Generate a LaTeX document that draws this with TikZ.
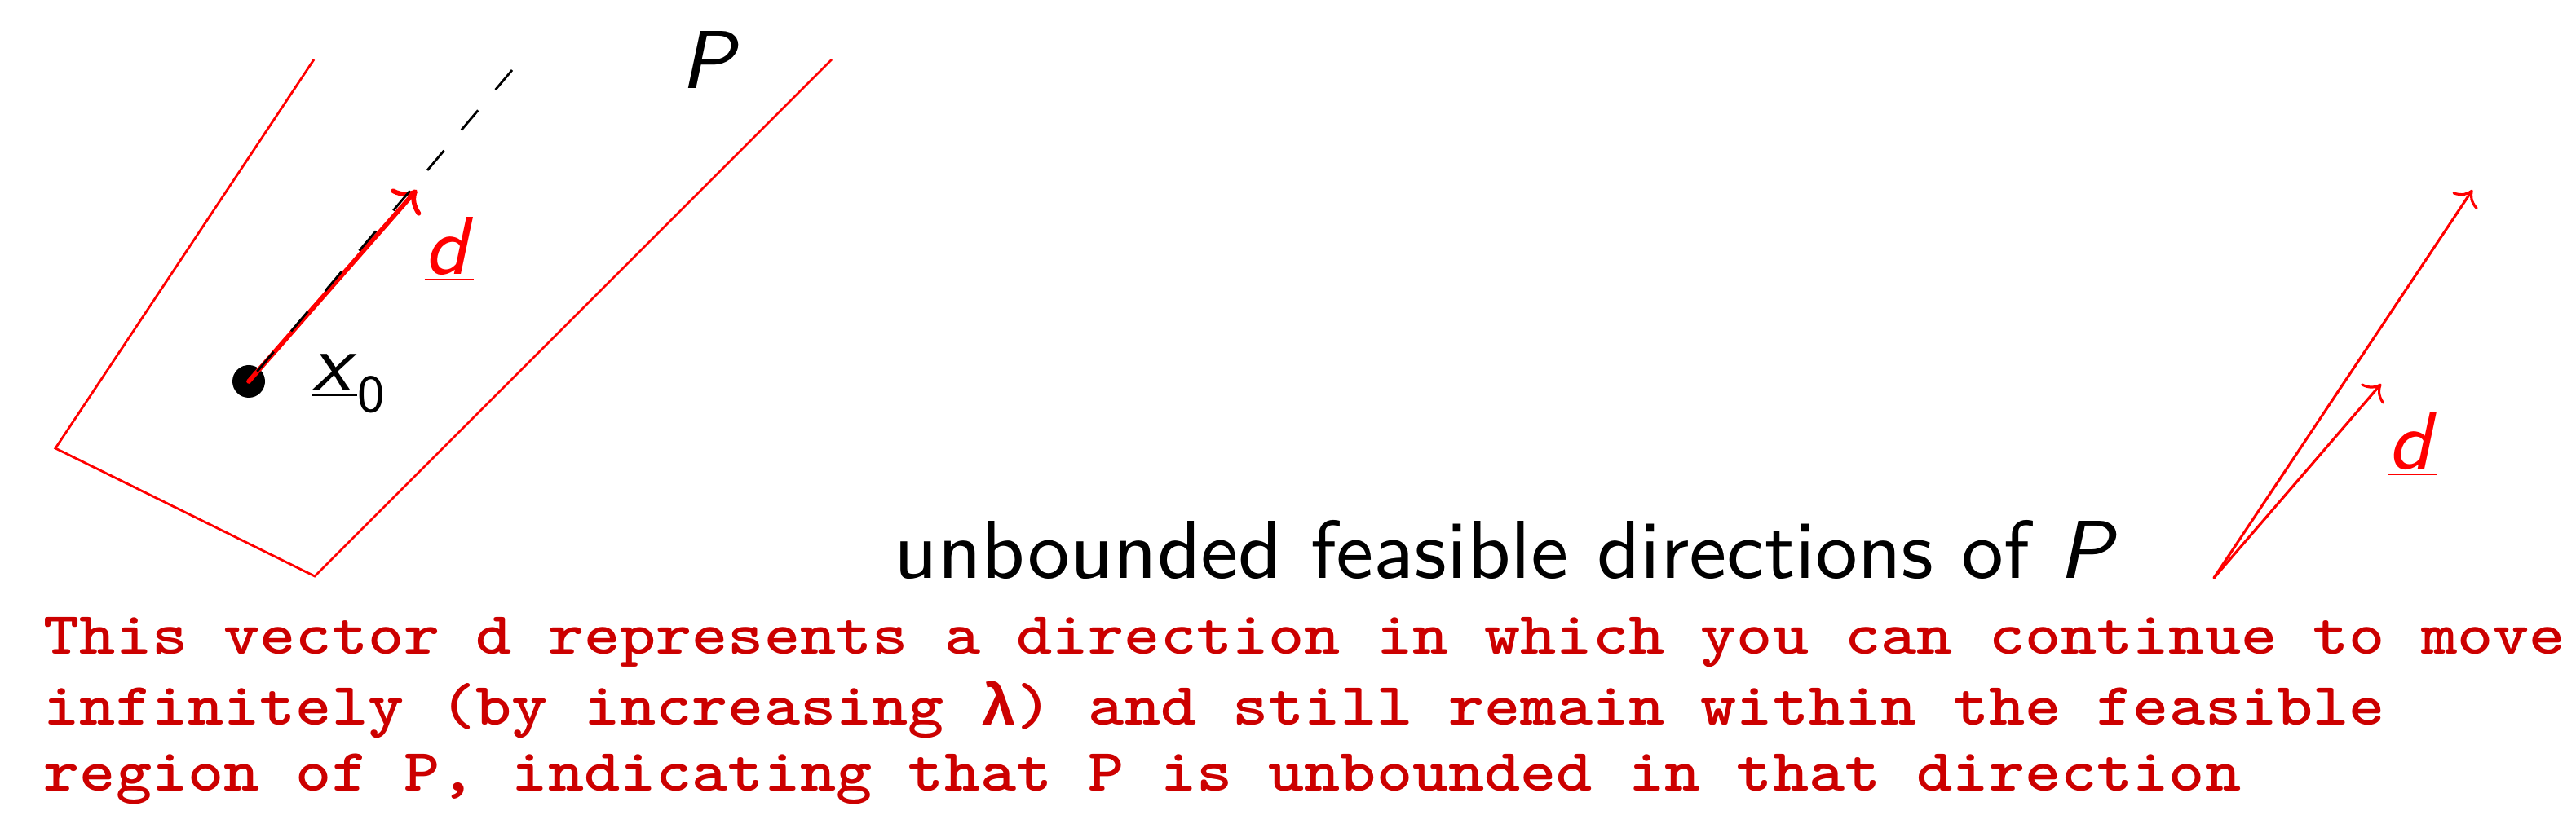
\documentclass[tikz,border=0pt]{standalone}
\usepackage{fontspec}
\newfontfamily\lblfont{lmsans9-regular.otf}[ItalicFont=lmsans9-oblique.otf]
\newfontfamily\notefont{lmmonolt10-bold.otf}[FakeStretch=1.14]
\newfontfamily\greekmono{Liberation Mono}
\usetikzlibrary{arrows.meta}
\definecolor{notered}{RGB}{204,0,0}

\begin{document}
\begin{tikzpicture}[
  edge/.style={red,line width=0.8pt},
  dvec/.style={red,line width=1.6pt,line cap=round,-{To[length=6.5pt,width=13.5pt]}},
  cvec/.style={red,line width=0.9pt,line cap=round,-{To[length=5pt,width=10.5pt]}},
  ray/.style={black,line width=0.8pt,dash pattern=on 9pt off 9.4pt},
  lbl/.style={inner sep=0pt,anchor=base west,font=\lblfont\fontsize{28.7}{34}\selectfont},
  note/.style={inner sep=0pt,anchor=base west,text=notered,font=\notefont\fontsize{21}{24}\selectfont}]
\useasboundingbox (0,0) rectangle (31.59,9.99);
% region P
\coordinate (tl) at (3.85,9.26);
\coordinate (L) at (0.68,4.49);
\coordinate (B) at (3.86,2.92);
\coordinate (tr) at (10.20,9.26);
\draw[edge] (tl) -- (L) -- (B) -- (tr);
\node[lbl] (P) at (8.34,8.90) {\textit{P}};
% point x0 and direction d
\node[circle,fill=black,inner sep=0pt,minimum size=0.4cm] (x0) at (3.05,5.31) {};
\coordinate (dtip) at (5.11,7.66);
\coordinate (dend) at (6.28,9.13);
\draw[dvec] (x0.center) -- (dtip);
\draw[ray] (dend) -- (x0.center);
\node[lbl] (x0lbl) at (3.82,5.19) {\underline{\textit{x}}\raisebox{-0.26cm}{\fontsize{18.5}{20}\selectfont 0}};
\node[lbl,text=red] (dlbl) at (5.20,6.62) {\underline{\textit{d}}};
% cone of directions
\coordinate (O) at (27.15,2.90);
\coordinate (ltip) at (30.32,7.66);
\coordinate (stip) at (29.20,5.28);
\draw[cvec] (O) -- (ltip);
\draw[cvec] (O) -- (stip);
\node[lbl,text=red] (dlbl2) at (29.28,4.23) {\underline{\textit{d}}};
\node[lbl] (title) at (10.96,2.89) {unbounded feasible directions of \textit{P}};
% note
\node[note] (note1) at (0.53,1.96) {This vector d represents a direction in which you can continue to move};
\node[note] (note2) at (0.53,1.09) {infinitely (by increasing {\greekmono\bfseries λ}) and still remain within the feasible};
\node[note] (note3) at (0.53,0.29) {region of P, indicating that P is unbounded in that direction};
\end{tikzpicture}
\end{document}
